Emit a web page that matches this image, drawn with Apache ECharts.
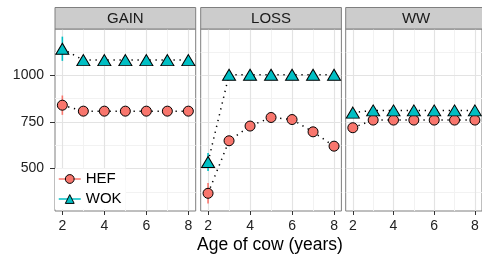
<!DOCTYPE html>
<html>
<head>
<meta charset="utf-8">
<script src="https://cdn.jsdelivr.net/npm/echarts@6/dist/echarts.min.js"></script>
<style>html,body{margin:0;padding:0;background:#fff;}#c{width:482px;height:257px;}</style>
</head>
<body>
<div id="c"></div>
<script>
// ---- data ----
var panels = ['GAIN', 'LOSS', 'WW'];
var years = [2, 3, 4, 5, 6, 7, 8];
var gainHEF = [840, 808, 808, 808, 808, 808, 808];
var gainWOK = [1143, 1082, 1082, 1082, 1082, 1082, 1082];
var lossHEF = [367, 649, 728, 774, 763, 697, 620];
var lossWOK = [535, 1003, 1003, 1003, 1003, 1003, 1003];
var wwHEF = [719, 760, 760, 760, 760, 760, 760];
var wwWOK = [800, 812, 812, 812, 812, 812, 812];
// half-widths of error bars
var gainHEFerr = [52, 14, 12, 12, 12, 12, 12];
var gainWOKerr = [65, 16, 15, 15, 15, 15, 15];
var lossHEFerr = [55, 16, 16, 20, 20, 20, 20];
var lossWOKerr = [48, 14, 14, 14, 14, 14, 14];
var wwHEFerr = [24, 12, 12, 12, 12, 12, 12];
var wwWOKerr = [20, 12, 12, 12, 12, 12, 12];
var xTicks = [2, 4, 6, 8];
var xMinor = [3, 5, 7];
var yTicks = [500, 750, 1000];
var yMinor = [375, 625, 875, 1125];
var xLabel = 'Age of cow (years)';

var HEFcol = '#F8766D', WOKcol = '#00BFC4';
var hefData = [gainHEF, lossHEF, wwHEF];
var wokData = [gainWOK, lossWOK, wwWOK];
var hefErr = [gainHEFerr, lossHEFerr, wwHEFerr];
var wokErr = [gainWOKerr, lossWOKerr, wwWOKerr];

var gLeft = [55, 200.7, 345.7], gW = 140.7, gTop = 29, gH = 182;
var xMin = 1.65, xMax = 8.35, yMin = 272, yMax = 1249;

var grids = [], xAxes = [], yAxes = [], series = [], graphics = [];

function pairs(vals) { return years.map(function (y, i) { return [y, vals[i]]; }); }
function errs(vals, e) { return years.map(function (y, i) { return [y, vals[i] - e[i], vals[i] + e[i]]; }); }
function errRender(color) {
  return function (params, api) {
    var p1 = api.coord([api.value(0), api.value(1)]);
    var p2 = api.coord([api.value(0), api.value(2)]);
    return { type: 'line', shape: { x1: p1[0], y1: p1[1], x2: p2[0], y2: p2[1] },
      style: { stroke: color, lineWidth: 1.6 } };
  };
}
var font = 'Liberation Sans, Arial';
var dots = [1.3, 4.7];

panels.forEach(function (p, k) {
  grids.push({ left: gLeft[k], top: gTop, width: gW, height: gH, show: true,
    backgroundColor: '#fff', borderColor: '#7F7F7F', borderWidth: 1 });
  xAxes.push({ type: 'value', gridIndex: k, min: xMin, max: xMax,
    axisLine: { show: false }, splitLine: { show: false },
    axisTick: { show: true, length: 4, lineStyle: { color: '#333' }, customValues: xTicks },
    axisLabel: { show: true, customValues: xTicks, fontSize: 14, color: '#222', margin: 8, fontFamily: font } });
  yAxes.push({ type: 'value', gridIndex: k, min: yMin, max: yMax, show: k === 0,
    axisLine: { show: false }, splitLine: { show: false },
    axisTick: { show: k === 0, length: 5, lineStyle: { color: '#333' }, customValues: yTicks },
    axisLabel: { show: k === 0, customValues: yTicks, fontSize: 14, color: '#222', margin: 11, fontFamily: font,
      formatter: function (v) { return String(v); } } });

  var ml = [];
  xMinor.forEach(function (v) { ml.push({ xAxis: v, lineStyle: { color: '#F2F2F2', width: 1, type: 'solid' } }); });
  yMinor.forEach(function (v) { ml.push({ yAxis: v, lineStyle: { color: '#F2F2F2', width: 1, type: 'solid' } }); });
  xTicks.forEach(function (v) { ml.push({ xAxis: v, lineStyle: { color: '#E3E3E3', width: 1.2, type: 'solid' } }); });
  yTicks.forEach(function (v) { ml.push({ yAxis: v, lineStyle: { color: '#E3E3E3', width: 1.2, type: 'solid' } }); });
  series.push({ type: 'scatter', name: 'grid' + k, xAxisIndex: k, yAxisIndex: k, z: 0,
    data: [[xTicks[0], yTicks[0]]], symbolSize: 0, silent: true,
    markLine: { z: 0, silent: true, symbol: ['none', 'none'], label: { show: false }, animation: false, data: ml } });

  series.push({ type: 'custom', name: 'HEF err ' + k, xAxisIndex: k, yAxisIndex: k, z: 2,
    encode: { x: 0, y: [1, 2] },
    data: errs(hefData[k], hefErr[k]), renderItem: errRender(HEFcol), silent: true });
  series.push({ type: 'custom', name: 'WOK err ' + k, xAxisIndex: k, yAxisIndex: k, z: 2,
    encode: { x: 0, y: [1, 2] },
    data: errs(wokData[k], wokErr[k]), renderItem: errRender(WOKcol), silent: true });

  series.push({ type: 'line', name: 'HEF', xAxisIndex: k, yAxisIndex: k, z: 3,
    data: pairs(hefData[k]), symbol: 'circle', symbolSize: 10,
    lineStyle: { color: '#000', width: 1.5, type: dots },
    itemStyle: { color: HEFcol, borderColor: '#000', borderWidth: 1 } });
  series.push({ type: 'line', name: 'WOK', xAxisIndex: k, yAxisIndex: k, z: 4,
    data: pairs(wokData[k]), symbol: 'triangle', symbolSize: [13, 11],
    lineStyle: { color: '#000', width: 1.5, type: dots },
    itemStyle: { color: WOKcol, borderColor: '#000', borderWidth: 1 } });

  graphics.push({ type: 'rect', shape: { x: gLeft[k], y: 7.5, width: gW, height: 21.5 },
    style: { fill: '#CCCCCC', stroke: '#7F7F7F', lineWidth: 1 }, z: 10 });
  graphics.push({ type: 'text', x: gLeft[k] + gW / 2, y: 18.5, z: 11,
    style: { text: p, fill: '#1A1A1A', font: '15px "Liberation Sans", Arial', textAlign: 'center', textVerticalAlign: 'middle' } });
});

graphics.push({ type: 'text', x: 270, y: 245, z: 11,
  style: { text: xLabel, fill: '#000', font: '17.5px "Liberation Sans", Arial', textAlign: 'center', textVerticalAlign: 'middle' } });

var chart = echarts.init(document.getElementById('c'), null, { renderer: 'canvas' });
chart.setOption({
  animation: false,
  backgroundColor: '#fff',
  grid: grids, xAxis: xAxes, yAxis: yAxes, series: series, graphic: graphics,
  legend: {
    left: 55, top: 168.5, orient: 'vertical', backgroundColor: '#fff', padding: [3, 4, 3, 3],
    itemWidth: 22, itemHeight: 11, itemGap: 5, selectedMode: false, z: 20,
    textStyle: { fontSize: 15, color: '#000', lineHeight: 15, fontFamily: font },
    data: [
      { name: 'HEF', lineStyle: { color: HEFcol, width: 1.5, type: 'solid' }, itemStyle: { color: HEFcol, borderColor: '#000', borderWidth: 1 } },
      { name: 'WOK', lineStyle: { color: WOKcol, width: 1.5, type: 'solid' }, itemStyle: { color: WOKcol, borderColor: '#000', borderWidth: 1 } }
    ]
  }
});
</script>
</body>
</html>
